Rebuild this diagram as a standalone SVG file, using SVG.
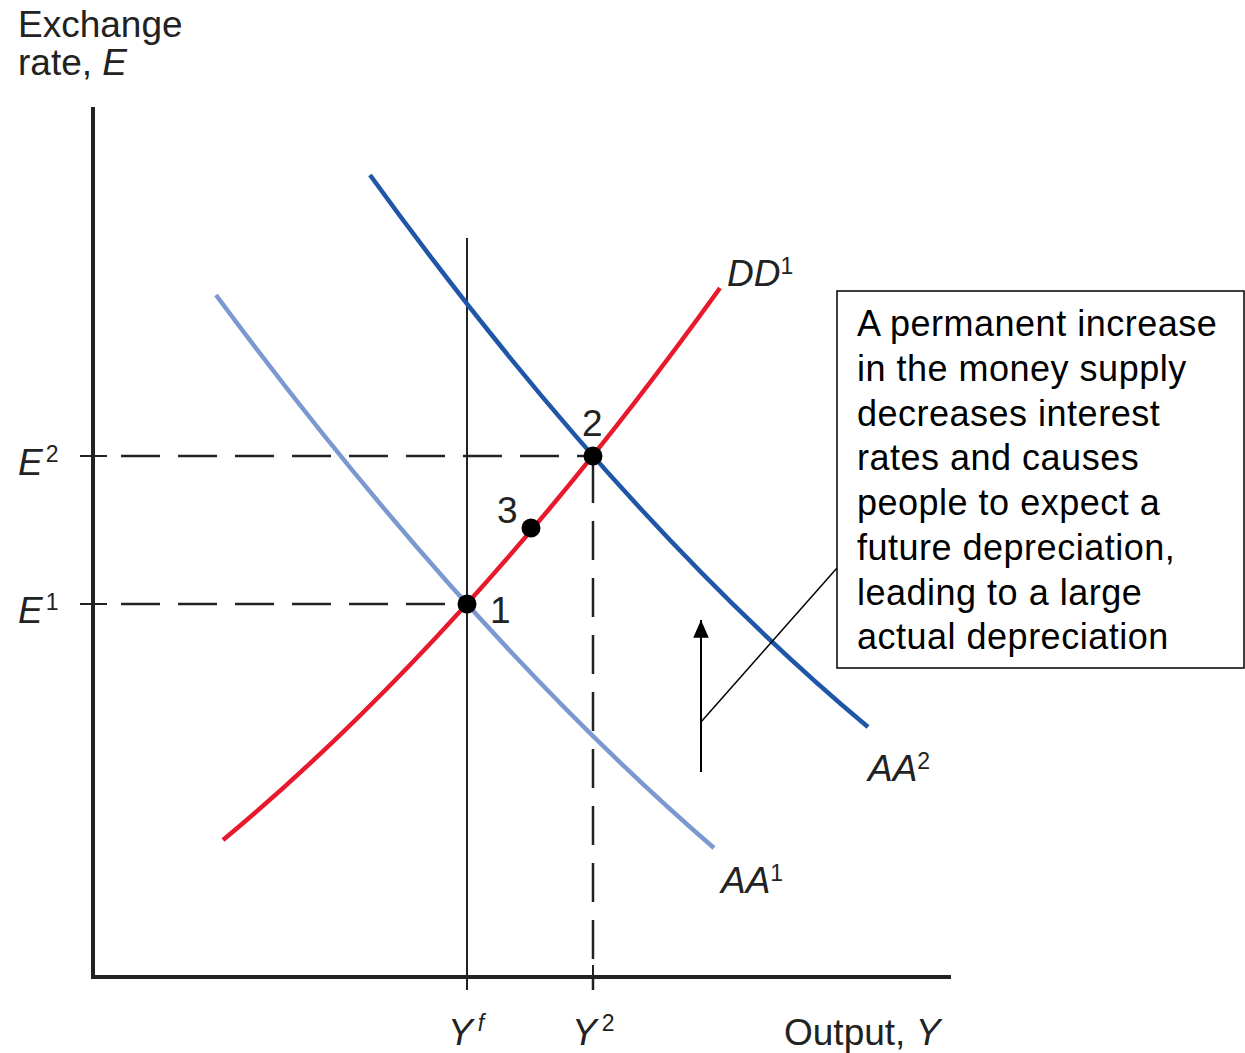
<svg xmlns="http://www.w3.org/2000/svg" width="1245" height="1053" viewBox="0 0 1245 1053">
<style>
.lbl{font-family:"Liberation Sans",Arial,sans-serif;fill:#222;font-size:37px}
.it{font-style:italic}
.sup{font-size:23px;font-style:normal}
.box{font-family:"Liberation Sans",Arial,sans-serif;fill:#000;font-size:36px;letter-spacing:0.5px}
.axis{stroke:#222;stroke-width:4;fill:none}
.dash{stroke:#222;stroke-width:2.5;stroke-dasharray:39 18;fill:none}
.thin{stroke:#222;stroke-width:2;fill:none}
.curve{fill:none;stroke-width:4.5;stroke-linecap:butt}
</style>
<defs>
<marker id="ah" markerWidth="20" markerHeight="20" refX="0" refY="0" orient="auto" markerUnits="userSpaceOnUse" viewBox="-17 -8 18 16" overflow="visible">
<path d="M0,0 L-16,-7 L-16,7 Z" fill="#000"/>
</marker>
</defs>
<rect width="1245" height="1053" fill="#fff"/>
<g id="axes">
<path class="axis" d="M93,107 V977 H951"/>
<path class="thin" d="M80,456 H107 M80,604 H107 M467,965 V990 M593,965 V990"/>
</g>
<g id="guides">
<path class="dash" d="M121,456 H593"/>
<path class="dash" d="M121,604 H467"/>
<path class="dash" d="M593,456 V990" style="stroke-dashoffset:-8"/>
<path class="thin" d="M467,238 V990"/>
</g>
<g id="curves">
<path id="AA1" class="curve" stroke="#7b98d0" d="M216,295 Q469,636.5 714,848"/>
<path id="AA2" class="curve" stroke="#1f56a8" d="M370,175 Q619,519 868,727"/>
<path id="DD1" class="curve" stroke="#e8192c" d="M223,840 Q471,634 720,288"/>
</g>
<g id="points" fill="#000">
<circle cx="467" cy="604" r="9.5"/>
<circle cx="593" cy="456" r="9.5"/>
<circle cx="531" cy="528" r="9.5"/>
</g>
<g id="connectors">
<path d="M701,772 V620" stroke="#000" stroke-width="2" fill="none" marker-end="url(#ah)"/>
<path d="M701,722 L837,568" stroke="#000" stroke-width="1.5" fill="none"/>
</g>
<g id="note">
<rect x="837" y="291" width="407" height="377" fill="#fff" stroke="#000" stroke-width="1.5"/>
<text class="box" x="857">
<tspan x="857" y="336">A permanent increase</tspan>
<tspan x="857" y="381">in the money supply</tspan>
<tspan x="857" y="426">decreases interest</tspan>
<tspan x="857" y="470">rates and causes</tspan>
<tspan x="857" y="515">people to expect a</tspan>
<tspan x="857" y="560">future depreciation,</tspan>
<tspan x="857" y="605">leading to a large</tspan>
<tspan x="857" y="649">actual depreciation</tspan>
</text>
</g>
<g id="labels">
<text class="lbl" x="18" y="37">Exchange</text>
<text class="lbl" x="18" y="75">rate, <tspan class="it">E</tspan></text>
<text class="lbl it" x="18" y="475">E<tspan class="sup" dx="3" dy="-13">2</tspan></text>
<text class="lbl it" x="18" y="623">E<tspan class="sup" dx="3" dy="-13">1</tspan></text>
<text class="lbl" x="490" y="623" font-size="33">1</text>
<text class="lbl" x="582" y="436" font-size="33">2</text>
<text class="lbl" x="497" y="523" font-size="33">3</text>
<text class="lbl it" x="727" y="286" font-size="33">DD<tspan class="sup" dy="-12">1</tspan></text>
<text class="lbl it" x="868" y="781" font-size="33">AA<tspan class="sup" dy="-12">2</tspan></text>
<text class="lbl it" x="721" y="893" font-size="33">AA<tspan class="sup" dy="-12">1</tspan></text>
<text class="lbl it" x="448" y="1045" font-size="35">Y<tspan class="sup" dx="5" dy="-14" style="font-style:italic">f</tspan></text>
<text class="lbl it" x="572" y="1045" font-size="35">Y<tspan class="sup" dx="5" dy="-14">2</tspan></text>
<text class="lbl" x="784" y="1045" font-size="35">Output, <tspan class="it">Y</tspan></text>
</g>
</svg>
